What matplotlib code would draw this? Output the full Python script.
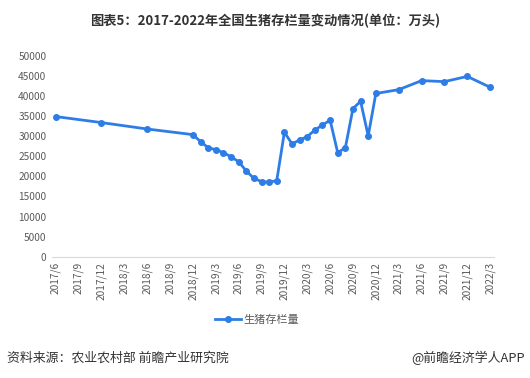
import matplotlib
matplotlib.use("Agg")
import matplotlib.pyplot as plt

plt.rcParams['font.family'] = ['Noto Sans CJK SC', 'DejaVu Sans']

# data (万头)
months = ["2017/6", "2017/12", "2018/6", "2018/12",
          "2019/1", "2019/2", "2019/3", "2019/4", "2019/5", "2019/6",
          "2019/7", "2019/8", "2019/9", "2019/10", "2019/11", "2019/12",
          "2020/1", "2020/2", "2020/3", "2020/4", "2020/5", "2020/6",
          "2020/7", "2020/8", "2020/9", "2020/10", "2020/11", "2020/12",
          "2021/3", "2021/6", "2021/9", "2021/12", "2022/3"]
values = [34900, 33400, 31800, 30400,
          28650, 27150, 26650, 25900, 24900, 23650,
          21350, 19500, 18700, 18550, 18950, 31000,
          28100, 29050, 29900, 31550, 32800, 34000,
          25900, 27150, 36900, 38700, 30100, 40650,
          41600, 43850, 43600, 44900, 42200]
tick_labels = ["2017/6", "2017/9", "2017/12", "2018/3", "2018/6", "2018/9",
               "2018/12", "2019/3", "2019/6", "2019/9", "2019/12", "2020/3",
               "2020/6", "2020/9", "2020/12", "2021/3", "2021/6", "2021/9",
               "2021/12", "2022/3"]


def month_index(s):
    y, m = s.split("/")
    return (int(y) - 2017) * 12 + int(m) - 6


x = [month_index(m) for m in months]
ticks = [month_index(t) for t in tick_labels]

fig = plt.figure(figsize=(5.3, 3.78), dpi=100)
ax = fig.add_axes([0.098, 0.321, 0.834, 0.531])

line, = ax.plot(x, values, color='#2e7de6', linewidth=2.0,
                marker='o', markersize=4, label='生猪存栏量')

ax.set_xlim(-0.5, 57.5)
ax.set_ylim(0, 50000)
ax.set_yticks(range(0, 50001, 5000))
ax.set_xticks(ticks)
ax.set_xticklabels(tick_labels, rotation=90)
ax.tick_params(axis='both', length=0, labelsize=7.3, colors='#595959', pad=4)

for s in ['top', 'right', 'left']:
    ax.spines[s].set_visible(False)
ax.spines['bottom'].set_color('#d9d9d9')

fig.text(0.5, 0.945, "图表5：2017-2022年全国生猪存栏量变动情况(单位：万头)",
         ha='center', va='center', fontsize=9.5, fontweight='bold', color='#333333')

fig.legend(handles=[line], loc='center', bbox_to_anchor=(0.485, 0.153),
           frameon=False, fontsize=8, handlelength=2.4, handletextpad=0.2,
           labelcolor='#595959')

fig.text(0.013, 0.052, "资料来源：农业农村部 前瞻产业研究院", ha='left', va='center',
         fontsize=9.3, color='#333333')
fig.text(0.99, 0.052, "@前瞻经济学人APP", ha='right', va='center',
         fontsize=9.3, color='#333333')

fig.savefig("out.png", dpi=100)
